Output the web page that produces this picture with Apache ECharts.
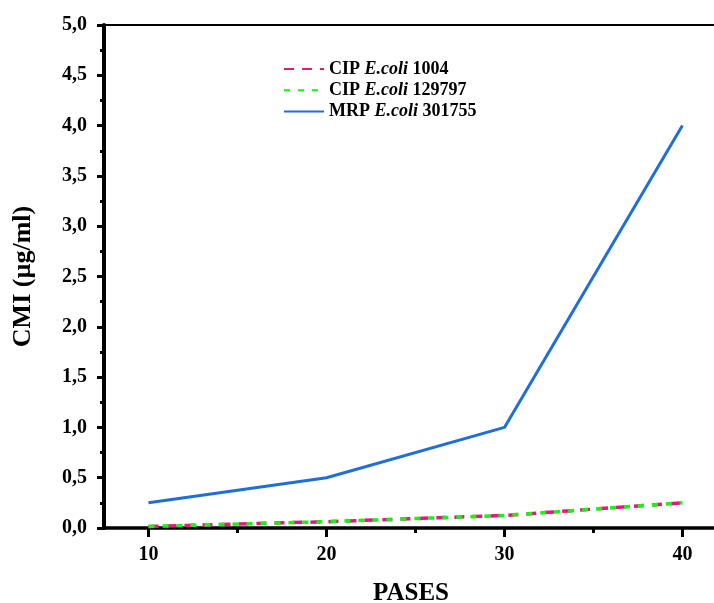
<!DOCTYPE html>
<html>
<head>
<meta charset="utf-8">
<script src="https://cdn.jsdelivr.net/npm/echarts@6/dist/echarts.min.js"></script>
<style>
    html, body { margin: 0; padding: 0; background: #fff; }
    #chart { width: 714px; height: 603px; }
</style>
</head>
<body>
<div id="chart"></div>
<script>
const passes = [10, 20, 30, 40];
const cip1004 = [0.0156, 0.0625, 0.125, 0.25];
const cip129797 = [0.0156, 0.0625, 0.125, 0.25];
const mrp301755 = [0.25, 0.5, 1.0, 4.0];
const majorTicks = [10, 20, 30, 40];
const minorTicks = [15, 25, 35];

const seriesNames = ['CIP 1004', 'CIP 129797', 'MRP 301755'];
const legendText = {
    'CIP 1004': 'CIP {i|E.coli} 1004',
    'CIP 129797': 'CIP {i|E.coli} 129797',
    'MRP 301755': 'MRP {i|E.coli} 301755'
};

const font = '"Liberation Serif", "Times New Roman", serif';
const pair = (vals) => passes.map((p, i) => [p, vals[i]]);

const myChart = echarts.init(document.getElementById('chart'));

const option = {
    backgroundColor: '#fff',
    textStyle: { fontFamily: font },
    grid: {
        left: 104,
        top: 25,
        width: 614,
        height: 503,
        outerBoundsMode: 'none',
        containLabel: false,
        show: true,
        borderColor: '#000',
        borderWidth: 2,
        backgroundColor: 'transparent'
    },
    legend: {
        orient: 'vertical',
        left: 278,
        top: 54,
        itemWidth: 40,
        itemHeight: 14,
        itemGap: 1.2,
        formatter: (name) => legendText[name],
        itemStyle: { opacity: 0 },
        textStyle: {
            fontFamily: font,
            fontSize: 18,
            fontWeight: 'bold',
            color: '#000',
            lineHeight: 20,
            rich: {
                i: { fontFamily: font, fontSize: 18, fontWeight: 'bold', fontStyle: 'italic', color: '#000', lineHeight: 20 }
            }
        },
        data: seriesNames
    },
    xAxis: [
        {
            type: 'value',
            min: 7.5,
            max: 42,
            position: 'bottom',
            name: 'PASES',
            nameLocation: 'middle',
            nameGap: 53,
            nameTextStyle: { fontFamily: font, fontSize: 25, fontWeight: 'bold', color: '#000' },
            axisLine: { show: true, lineStyle: { color: '#000', width: 3.5 } },
            axisTick: { show: true, inside: false, length: 9, customValues: majorTicks, lineStyle: { color: '#000', width: 3 } },
            axisLabel: {
                customValues: majorTicks,
                margin: 17,
                fontFamily: font, fontSize: 20, fontWeight: 'bold', color: '#000'
            },
            splitLine: { show: false }
        },
        {
            type: 'value',
            min: 7.5,
            max: 42,
            position: 'bottom',
            axisLine: { show: false },
            axisTick: { show: true, inside: false, length: 5, customValues: minorTicks, lineStyle: { color: '#000', width: 3 } },
            axisLabel: { show: false, customValues: minorTicks },
            splitLine: { show: false }
        }
    ],
    yAxis: {
        type: 'value',
        min: 0,
        max: 5,
        interval: 0.5,
        name: 'CMI (µg/ml)',
        nameLocation: 'middle',
        nameGap: 68,
        nameTextStyle: { fontFamily: font, fontSize: 26, fontWeight: 'bold', color: '#000' },
        axisLine: { show: true, lineStyle: { color: '#000', width: 4 } },
        axisTick: { show: true, inside: false, length: 7, lineStyle: { color: '#000', width: 3 } },
        minorTick: { show: true, splitNumber: 2, length: 4, lineStyle: { color: '#000', width: 3 } },
        axisLabel: {
            margin: 17,
            fontFamily: font, fontSize: 20, fontWeight: 'bold', color: '#000',
            formatter: (v) => v.toFixed(1).replace('.', ',')
        },
        splitLine: { show: false }
    },
    series: [
        {
            name: 'MRP 301755',
            type: 'line',
            showSymbol: false,
            symbol: 'none',
            data: pair(mrp301755),
            lineStyle: { color: '#1f6fdb', width: 3 },
            itemStyle: { color: '#1f6fdb' },
            z: 2
        },
        {
            name: 'CIP 1004',
            type: 'line',
            showSymbol: false,
            symbol: 'none',
            data: pair(cip1004),
            lineStyle: { color: '#e8177f', width: 3.5, type: [10, 8] },
            itemStyle: { color: '#e8177f' },
            z: 3
        },
        {
            name: 'CIP 129797',
            type: 'line',
            showSymbol: false,
            symbol: 'none',
            data: pair(cip129797),
            lineStyle: { color: '#14f514', width: 3.5, type: [6, 8] },
            itemStyle: { color: '#14f514' },
            z: 4
        }
    ]
};

myChart.setOption(option);
</script>
</body>
</html>
